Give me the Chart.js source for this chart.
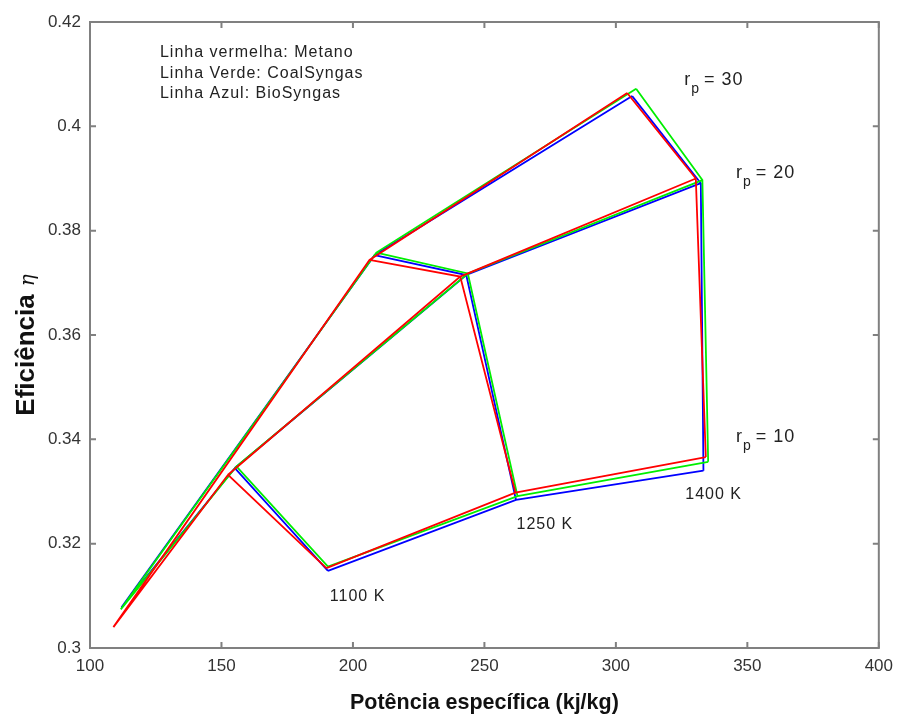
<!DOCTYPE html>
<html>
<head>
<meta charset="utf-8">
<script src="https://cdn.jsdelivr.net/npm/chart.js@4/dist/chart.umd.min.js"></script>
<style>
  html, body { margin: 0; padding: 0; background: #fff; }
  #wrap { width: 901px; height: 719px; position: relative; }
</style>
</head>
<body>
<div id="wrap"><canvas id="chart"></canvas></div>
<script>
// grid of results: rows = turbine inlet temperature, columns = pressure ratio
const temperatures = ["1100 K", "1250 K", "1400 K"];
const pressureRatios = [10, 20, 30];

// Metano (red)
const metanoPower = [[189.9, 152.5, 108.9], [261.8, 240.8, 206.3], [334.2, 330.4, 304.3]];
const metanoEff   = [[0.3153, 0.3332, 0.3040], [0.3298, 0.3712, 0.3744], [0.3366, 0.3900, 0.4064]];
// CoalSyngas (green)
const coalPower = [[190.5, 155.7, 111.7], [262.6, 243.7, 208.9], [335.1, 332.9, 307.7]];
const coalEff   = [[0.3156, 0.3348, 0.3074], [0.3291, 0.3718, 0.3758], [0.3357, 0.3897, 0.4072]];
// BioSyngas (blue)
const bioPower = [[190.5, 155.1, 112.0], [262.0, 243.1, 208.2], [333.3, 332.3, 306.2]];
const bioEff   = [[0.3148, 0.3345, 0.3078], [0.3284, 0.3715, 0.3753], [0.3340, 0.3891, 0.4058]];

const xTickLabels = ["100", "150", "200", "250", "300", "350", "400"];
const yTickLabels = ["0.3", "0.32", "0.34", "0.36", "0.38", "0.4", "0.42"];

const legendLines = ["Linha vermelha: Metano", "Linha Verde: CoalSyngas", "Linha Azul: BioSyngas"];

const FONT = "'Liberation Sans', Arial, Helvetica, sans-serif";

// build a wireframe: constant-rp lines and constant-T lines, separated by gaps
function wireframe(power, eff) {
  const pts = [];
  for (let j = 0; j < pressureRatios.length; j++) {
    for (let i = 0; i < temperatures.length; i++) pts.push({ x: power[i][j], y: eff[i][j] });
    pts.push({ x: null, y: null });
  }
  for (let i = 0; i < temperatures.length; i++) {
    for (let j = 0; j < pressureRatios.length; j++) pts.push({ x: power[i][j], y: eff[i][j] });
    pts.push({ x: null, y: null });
  }
  return pts;
}

const frame = {
  id: "frame",
  afterDatasetsDraw(chart) {
    const { ctx, chartArea: a, scales: { x, y } } = chart;
    ctx.save();
    ctx.strokeStyle = "#808080";
    ctx.lineWidth = 2;
    ctx.strokeRect(a.left, a.top, a.right - a.left, a.bottom - a.top);
    ctx.beginPath();
    const tl = 6;
    x.ticks.forEach((t) => {
      const px = x.getPixelForValue(t.value);
      ctx.moveTo(px, a.bottom); ctx.lineTo(px, a.bottom - tl);
      ctx.moveTo(px, a.top); ctx.lineTo(px, a.top + tl);
    });
    y.ticks.forEach((t) => {
      const py = y.getPixelForValue(t.value);
      ctx.moveTo(a.left, py); ctx.lineTo(a.left + tl, py);
      ctx.moveTo(a.right, py); ctx.lineTo(a.right - tl, py);
    });
    ctx.stroke();

    // text annotations
    ctx.fillStyle = "#222";
    ctx.letterSpacing = "1px";
    ctx.textBaseline = "middle";
    ctx.textAlign = "left";
    ctx.font = "16px " + FONT;
    legendLines.forEach((s, k) => {
      ctx.fillText(s, x.getPixelForValue(126.6), a.top + 31 + k * 20.5);
    });
    const tLabels = [[191.2, 0.3098], [262.2, 0.3236], [326.4, 0.3295]];
    temperatures.forEach((s, k) => {
      ctx.fillText(s, x.getPixelForValue(tLabels[k][0]), y.getPixelForValue(tLabels[k][1]));
    });
    const rpLabels = [[345.7, 0.3395], [345.7, 0.3901], [326.0, 0.4079]];
    ctx.textBaseline = "alphabetic";
    pressureRatios.forEach((r, k) => {
      let px = x.getPixelForValue(rpLabels[k][0]);
      const py = y.getPixelForValue(rpLabels[k][1]);
      ctx.font = "18px " + FONT;
      ctx.fillText("r", px, py);
      px += ctx.measureText("r").width;
      ctx.font = "14px " + FONT;
      ctx.fillText("p", px, py + 8);
      px += ctx.measureText("p").width + 4;
      ctx.font = "18px " + FONT;
      ctx.fillText("= " + r, px, py);
    });
    ctx.letterSpacing = "0px";

    // y axis title with eta
    ctx.save();
    ctx.translate(27, 345);
    ctx.rotate(-Math.PI / 2);
    ctx.textBaseline = "middle";
    ctx.font = "bold 26px " + FONT;
    const w1 = ctx.measureText("Eficiência").width;
    ctx.font = "italic 20px 'DejaVu Serif', serif";
    const w2 = ctx.measureText("η").width;
    const sx = -(w1 + 8 + w2) / 2;
    ctx.fillStyle = "#111";
    ctx.font = "bold 26px " + FONT;
    ctx.fillText("Eficiência", sx, 0);
    ctx.font = "italic 20px 'DejaVu Serif', serif";
    ctx.fillText("η", sx + w1 + 8, 2);
    ctx.restore();
    ctx.restore();
  }
};

const colors = ["#ff0000", "#00ee00", "#0000ff"];

new Chart(document.getElementById("chart"), {
  type: "scatter",
  data: {
    datasets: [
      { label: "Metano", data: wireframe(metanoPower, metanoEff), borderColor: colors[0] },
      { label: "CoalSyngas", data: wireframe(coalPower, coalEff), borderColor: colors[1] },
      { label: "BioSyngas", data: wireframe(bioPower, bioEff), borderColor: colors[2] },
    ].map((d) => ({ ...d, showLine: true, spanGaps: false, pointRadius: 0, borderWidth: 1.8, fill: false })),
  },
  options: {
    responsive: true,
    maintainAspectRatio: false,
    animation: false,
    layout: { padding: { top: 22, right: 21, left: 0, bottom: 0 } },
    plugins: { legend: { display: false }, tooltip: { enabled: false } },
    scales: {
      x: {
        type: "linear",
        min: 100, max: 400,
        afterFit: (s) => { s.height = 71; },
        grid: { display: false, drawTicks: false },
        border: { display: false },
        ticks: { stepSize: 50, padding: 8, color: "#333", font: { size: 17, family: FONT },
                 callback: (v, i) => xTickLabels[i] },
        title: { display: true, text: "Potência específica (kj/kg)", color: "#111",
                 font: { size: 21.5, weight: "bold", family: FONT }, padding: { top: 0, bottom: 3 } },
      },
      y: {
        type: "linear",
        min: 0.3, max: 0.42,
        afterFit: (s) => { s.width = 90; },
        grid: { display: false, drawTicks: false },
        border: { display: false },
        ticks: { stepSize: 0.02, padding: 9, color: "#333", font: { size: 17, family: FONT },
                 callback: (v, i) => yTickLabels[i] },
      },
    },
  },
  plugins: [frame],
});
</script>
</body>
</html>
